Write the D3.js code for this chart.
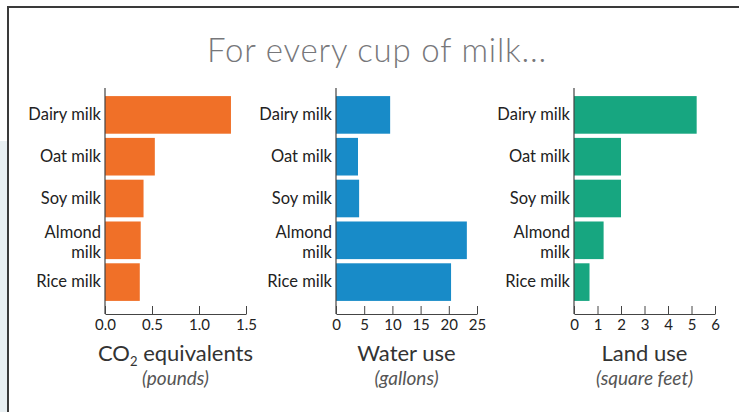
<!DOCTYPE html>
<html>
<head>
<meta charset="utf-8">
<script src="https://d3js.org/d3.v7.min.js"></script>
<style>
  body { margin: 0; padding: 0; background: #fff; }
  text { font-family: Lato, "Open Sans", sans-serif; }
</style>
</head>
<body>
<svg width="739" height="412"></svg>
<script>
// data
const milks = ["Dairy milk", "Oat milk", "Soy milk", "Almond milk", "Rice milk"];
const co2 = [1.34, 0.53, 0.41, 0.38, 0.37];
const water = [9.6, 3.9, 4.1, 23.2, 20.4];
const land = [5.22, 2.0, 2.0, 1.26, 0.66];

const co2Ticks = [0, 0.5, 1, 1.5];
const waterTicks = [0, 5, 10, 15, 20, 25];
const landTicks = [0, 1, 2, 3, 4, 5, 6];

const svg = d3.select("svg");

// frame + side strip
svg.append("rect").attr("x", 0).attr("y", 141).attr("width", 8).attr("height", 271)
  .attr("fill", "#e8eff2");
svg.append("path").attr("d", "M8,412V7H739")
  .attr("fill", "none").attr("stroke", "#3a3a3a").attr("stroke-width", 2);

svg.append("text")
  .attr("x", 377).attr("y", 62)
  .attr("text-anchor", "middle")
  .attr("font-size", 33)
  .attr("font-weight", 300)
  .attr("letter-spacing", 0.8)
  .attr("fill", "#77777a")
  .text("For every cup of milk...");

const y = d3.scaleBand().domain(milks).range([94, 303])
  .paddingInner(0.1).paddingOuter(0.05);

const panels = [
  { x0: 105, vals: co2, max: 1.5, ticks: co2Ticks, fmt: d3.format(".1f"), color: "#f07028", title: "co2", unit: "(pounds)" },
  { x0: 336, vals: water, max: 25, ticks: waterTicks, fmt: d3.format("d"), color: "#188bc8", title: "Water use", unit: "(gallons)" },
  { x0: 574, vals: land, max: 6, ticks: landTicks, fmt: d3.format("d"), color: "#17a680", title: "Land use", unit: "(square feet)" }
];

panels.forEach(p => {
  const x = d3.scaleLinear().domain([0, p.max]).range([p.x0, p.x0 + 141]);
  const g = svg.append("g");

  g.selectAll("rect.bar").data(p.vals).enter().append("rect")
    .attr("class", "bar")
    .attr("x", x(0))
    .attr("y", (d, i) => y(milks[i]))
    .attr("width", d => x(d) - x(0))
    .attr("height", y.bandwidth())
    .attr("fill", p.color);

  // y axis line
  g.append("line").attr("x1", p.x0).attr("x2", p.x0).attr("y1", 88).attr("y2", 314)
    .attr("stroke", "#444").attr("stroke-width", 1.2);

  // x axis with inward ticks
  const ax = g.append("g").attr("transform", "translate(0,314)")
    .call(d3.axisBottom(x).tickValues(p.ticks).tickFormat(p.fmt).tickSizeInner(-8).tickSizeOuter(0));
  ax.select(".domain").attr("stroke", "#444").attr("stroke-width", 1.2);
  ax.selectAll(".tick line").attr("stroke", "#444");
  ax.selectAll(".tick text")
    .attr("y", 15.5).attr("dy", null)
    .attr("font-size", 15).attr("fill", "#222")
    .attr("font-family", "Lato, sans-serif");

  // category labels
  milks.forEach(m => {
    const cy = y(m) + y.bandwidth() / 2;
    const t = g.append("text")
      .attr("text-anchor", "end")
      .attr("font-size", 16.5)
      .attr("fill", "#222");
    if (m === "Almond milk") {
      t.append("tspan").attr("x", p.x0 - 4).attr("y", cy - 2.5).text("Almond");
      t.append("tspan").attr("x", p.x0 - 4).attr("y", cy + 17.5).text("milk");
    } else {
      t.attr("x", p.x0 - 4).attr("y", cy + 5).text(m);
    }
  });

  const cx = p.x0 + 70.5;
  const tt = g.append("text").attr("x", cx).attr("y", 361)
    .attr("text-anchor", "middle").attr("font-size", 22).attr("fill", "#333");
  if (p.title === "co2") {
    tt.append("tspan").text("CO");
    tt.append("tspan").attr("font-size", 13).attr("dy", 5).text("2");
    tt.append("tspan").attr("dy", -5).text(" equivalents");
  } else {
    tt.text(p.title);
  }
  g.append("text").attr("x", cx).attr("y", 385)
    .attr("text-anchor", "middle").attr("font-size", 19)
    .attr("font-family", "'Open Sans', sans-serif")
    .attr("font-style", "italic").attr("fill", "#555")
    .text(p.unit);
});
</script>
</body>
</html>
